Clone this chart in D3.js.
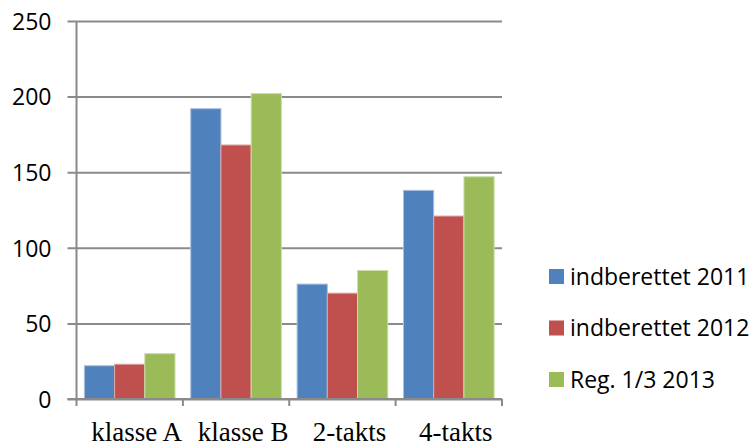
<!DOCTYPE html>
<html>
<head>
<meta charset="utf-8">
<script src="https://cdn.jsdelivr.net/npm/d3@7/dist/d3.min.js"></script>
<style>
  html, body { margin: 0; padding: 0; background: #fff; }
  svg { display: block; }
</style>
</head>
<body>
<script>
// Categories and series
const categories = ["klasse A", "klasse B", "2-takts", "4-takts"];
const seriesNames = ["indberettet 2011", "indberettet 2012", "Reg. 1/3 2013"];
const values2011 = [22, 192, 76, 138];
const values2012 = [23, 168, 70, 121];
const values2013 = [30, 202, 85, 147];
const yTicks = [0, 50, 100, 150, 200, 250];
const colors = ["#4F81BD", "#C0504D", "#9BBB59"];
const edgeColors = ["#a9c1de", "#dca8a6", "#cddcae"];

const seriesValues = [values2011, values2012, values2013];

const W = 754, H = 448;
const plot = { left: 76.5, right: 502, top: 21, bottom: 399 };

const svg = d3.select("body").append("svg")
  .attr("width", W).attr("height", H);

const x = d3.scaleBand()
  .domain(categories)
  .range([plot.left, plot.right])
  .paddingInner(0)
  .paddingOuter(0);

const xInner = d3.scaleBand()
  .domain(d3.range(seriesNames.length))
  .range([0, x.bandwidth()])
  .paddingOuter(0.26)
  .paddingInner(0);

const y = d3.scaleLinear().domain([0, 250]).range([plot.bottom, plot.top]);

const gridColor = "#8a8a8a";

// Horizontal gridlines with short outer ticks
const yAxis = d3.axisLeft(y)
  .tickValues(yTicks)
  .tickSize(-(plot.right - plot.left))
  .tickSizeOuter(0)
  .tickPadding(0)
  .tickFormat(d3.format("d"));

const gy = svg.append("g")
  .attr("transform", `translate(${plot.left},0)`)
  .call(yAxis);
gy.select(".domain").remove();
gy.selectAll(".tick line")
  .attr("x1", -9)
  .attr("stroke", gridColor)
  .attr("stroke-width", 2);
gy.selectAll(".tick text")
  .attr("x", -25)
  .attr("dy", "0.36em")
  .attr("text-anchor", "end")
  .attr("fill", "#000")
  .style("font-family", "'Open Sans', 'Noto Sans', sans-serif")
  .style("font-size", "23px");

// Bars
const groups = svg.append("g").selectAll("g")
  .data(categories)
  .join("g")
  .attr("transform", d => `translate(${x(d)},0)`);

groups.selectAll("rect")
  .data((c, ci) => seriesValues.map((vals, si) => ({ si, v: vals[ci] })))
  .join("rect")
  .attr("x", d => xInner(d.si))
  .attr("width", xInner.bandwidth())
  .attr("y", d => y(d.v))
  .attr("height", d => y(0) - y(d.v))
  .attr("fill", d => colors[d.si])
  .attr("stroke", d => edgeColors[d.si])
  .attr("stroke-width", 1);

// Vertical axis line
svg.append("line")
  .attr("x1", plot.left).attr("x2", plot.left)
  .attr("y1", plot.top).attr("y2", plot.bottom)
  .attr("stroke", gridColor).attr("stroke-width", 2);

// Category axis with boundary ticks
const gx = svg.append("g")
  .attr("transform", `translate(0,${plot.bottom})`);
gx.append("line")
  .attr("x1", plot.left - 9).attr("x2", plot.right)
  .attr("stroke", gridColor).attr("stroke-width", 2);
const boundaries = categories.map(c => x(c)).concat([x(categories[categories.length - 1]) + x.bandwidth()]);
gx.selectAll("line.tick")
  .data(boundaries)
  .join("line")
  .attr("class", "tick")
  .attr("x1", d => d).attr("x2", d => d)
  .attr("y1", 0).attr("y2", 7)
  .attr("stroke", gridColor).attr("stroke-width", 2);
gx.selectAll("text")
  .data(categories)
  .join("text")
  .attr("x", d => x(d) + x.bandwidth() / 2 + 7)
  .attr("y", 42)
  .attr("text-anchor", "middle")
  .attr("fill", "#000")
  .style("font-family", "'Liberation Serif', 'Times New Roman', serif")
  .style("font-size", "27px")
  .text(d => d);

// Legend
const legend = svg.append("g").attr("transform", "translate(549,269)");
const item = legend.selectAll("g")
  .data(seriesNames)
  .join("g")
  .attr("transform", (d, i) => `translate(0,${i * 51.5})`);
item.append("rect")
  .attr("width", 15).attr("height", 15)
  .attr("fill", (d, i) => colors[i]);
item.append("text")
  .attr("x", 21)
  .attr("y", 7.5)
  .attr("dy", "0.36em")
  .attr("fill", "#000")
  .style("font-family", "'Open Sans', 'Noto Sans', sans-serif")
  .style("font-size", "23px")
  .text(d => d);
</script>
</body>
</html>
